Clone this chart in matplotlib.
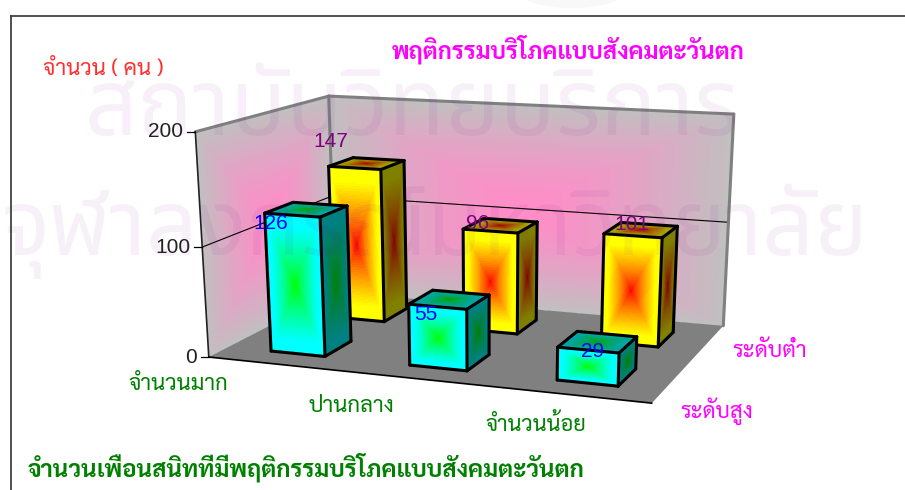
import numpy as np
import matplotlib
matplotlib.use("Agg")
import matplotlib.pyplot as plt
from matplotlib.patches import Ellipse

categories = ["จำนวนมาก", "ปานกลาง", "จำนวนน้อย"]
series = ["ระดับสูง", "ระดับต่ำ"]
high_values = [126, 55, 29]
low_values = [147, 96, 101]
y_ticks = [0, 100, 200]
y_max = 200
title = "พฤติกรรมบริโภคแบบสังคมตะวันตก"
y_title = "จำนวน ( คน )"
x_title = "จำนวนเพื่อนสนิทที่มีพฤติกรรมบริโภคแบบสังคมตะวันตก"
watermark = ["สถาบันวิทยบริการ", "จุฬาลงกรณ์มหาวิทยาลัย"]

fam = ["Sarabun", "Liberation Sans", "DejaVu Sans"]
wfam = ["Noto Sans Thai", "DejaVu Sans"]
num = ["Liberation Sans"]

# projective map of the unit cube (x along, y depth, z up) fitted to the chart corners
cube = np.array([[0,0,0],[1,0,0],[0,1,0],[1,1,0],[0,0,1],[0,1,1],[1,1,1]], float)
pix = np.array([[208,357],[652,403],[336,292],[723,326],[196,132],[328,96],[734,114]], float)
A, b = [], []
for (X,Y,Z),(u,v) in zip(cube,pix):
    A.append([X,Y,Z,1,0,0,0,0,-u*X,-u*Y,-u*Z]); b.append(u)
    A.append([0,0,0,0,X,Y,Z,1,-v*X,-v*Y,-v*Z]); b.append(v)
p = np.linalg.lstsq(np.array(A),np.array(b),rcond=None)[0]
P = np.append(p,1).reshape(3,4)
def proj(x,y,z):
    x,y,z = np.broadcast_arrays(x,y,z)
    w = P[2,0]*x+P[2,1]*y+P[2,2]*z+P[2,3]
    return (P[0,0]*x+P[0,1]*y+P[0,2]*z+P[0,3])/w, (P[1,0]*x+P[1,1]*y+P[1,2]*z+P[1,3])/w

fig = plt.figure(figsize=(9.05,4.9),dpi=100,facecolor="white")
ax = fig.add_axes([0,0,1,1]); ax.set_xlim(0,905); ax.set_ylim(490,0); ax.axis("off")
rend = fig.canvas.get_renderer()

def fit(t, width):
    w = t.get_window_extent(rend).width
    t.set_fontsize(t.get_fontsize()*width/w)
    return t

def face(c0,c1,c2,center,edge,reach=0.85,power=0.8,n=60,z=2):
    c0,c1,c2 = map(np.array,(c0,c1,c2))
    s = np.linspace(0,1,n+1); g = np.linspace(0,1,n+1)
    S,G = np.meshgrid(s,g)
    pts = c0[None,None,:]+S[...,None]*(c1-c0)+G[...,None]*(c2-c0)
    X,Y = proj(pts[...,0],pts[...,1],pts[...,2])
    sm = (s[:-1]+s[1:])/2; gm=(g[:-1]+g[1:])/2
    U,V = np.meshgrid(2*sm-1,2*gm-1)
    t = np.clip(np.maximum(abs(U),abs(V))**power/reach,0,1)[...,None]
    col = np.clip((np.array(center)*(1-t)+np.array(edge)*t)/255,0,1)
    ax.pcolormesh(X,Y,col,shading="flat",linewidth=0,antialiased=False,rasterized=True,zorder=z)

def line3(a,b,**kw):
    x,y = proj(*np.array([a,b],float).T)
    ax.plot(x,y,solid_capstyle="round",**kw)

ax.add_patch(Ellipse((572,-6),100,28,color="#f8f8f8",lw=0,zorder=0))

GRAY=(192,192,192); PINK=(255,140,200)
face((0,1,0),(1,1,0),(0,1,1),PINK,GRAY,reach=1.0,power=1.4,z=1)
face((0,0,0),(0,1,0),(0,0,1),PINK,GRAY,reach=1.0,power=1.4,z=1)
fx,fy = proj(np.array([0,1,1,0.]),np.array([0,0,1,1.]),np.zeros(4))
ax.fill(fx,fy,color="#808080",zorder=1.2,lw=0)

for t in y_ticks:
    zz=t/y_max
    kw=dict(color="#808080",lw=2.2,zorder=1.5) if t==y_max else dict(color="black",lw=0.8,zorder=1.5)
    if t>0:
        line3((0,0,zz),(0,1,zz),**kw); line3((0,1,zz),(1,1,zz),**kw)
    x,y=proj(0,0,zz)
    ax.plot([x-8,x],[y,y],color="black",lw=0.9,zorder=1.6)
    ax.text(x-12,y,str(t),ha="right",va="center",fontsize=15,color="#222222",family=num,zorder=6)
line3((0,1,0),(0,1,1),color="#808080",lw=2.2,zorder=1.5)
line3((1,1,0),(1,1,1),color="#808080",lw=2.2,zorder=1.5)
line3((0,0,0),(0,0,1),color="#222222",lw=1.2,zorder=1.5)
line3((0,0,0),(1,0,0),color="black",lw=1.2,zorder=1.5)

HALF_W=0.066; DEPTH=0.21
def bar(i,row,val,center,edge,z):
    xc=(i+0.5)/3+0.005; y0=0.14+0.5*row; y1=y0+DEPTH; h=val/y_max
    x0,x1=xc-HALF_W,xc+HALF_W
    face((x0,y0,0),(x1,y0,0),(x0,y0,h),center,edge,z=z)
    dark=lambda c,f:tuple(f*k for k in c)
    face((x1,y0,0),(x1,y1,0),(x1,y0,h),dark(center,.5),dark(edge,.5),z=z)
    face((x0,y0,h),(x1,y0,h),(x0,y1,h),dark(center,.65),dark(edge,.65),z=z)
    kw=dict(color="black",lw=2.2,zorder=z+.1)
    for a,b in [((x0,y0,0),(x1,y0,0)),((x0,y0,h),(x1,y0,h)),((x0,y0,0),(x0,y0,h)),((x1,y0,0),(x1,y0,h)),
                ((x1,y0,0),(x1,y1,0)),((x1,y1,0),(x1,y1,h)),((x1,y0,h),(x1,y1,h)),((x0,y0,h),(x0,y1,h)),((x0,y1,h),(x1,y1,h))]:
        line3(a,b,**kw)

z=2
for i,v in enumerate(low_values):
    bar(i,1,v,(255,0,0),(255,255,0),z); z+=.2
for i,v in enumerate(high_values):
    bar(i,0,v,(0,255,0),(0,255,255),z); z+=.2

for v,(x,y) in zip(low_values,[(331,141),(478,223),(632,224)]):
    ax.text(x,y,str(v),ha="center",va="center",fontsize=15,color="#800080",family=num,zorder=9)
for v,(x,y) in zip(high_values,[(271,223),(426,314),(593,351)]):
    ax.text(x,y,str(v),ha="center",va="center",fontsize=15,color="#0000ff",family=num,zorder=9)

GREEN="#008000"; MAG="#ff00ff"
for c,(x,y),w in zip(categories,[(178,384),(351,406),(536,425)],[100,86,101]):
    fit(ax.text(x,y,c,ha="center",va="center",fontsize=13,color=GREEN,family=fam,zorder=9),w)
for s,(x,y),w in zip(series,[(717,411),(770,351)],[73,75]):
    fit(ax.text(x,y,s,ha="center",va="center",fontsize=13,color=MAG,family=fam,zorder=9),w)
fit(ax.text(568,49,title,ha="center",va="center",fontsize=14,fontweight="bold",color=MAG,family=fam,zorder=9),353)
fit(ax.text(103,70,y_title,ha="center",va="center",fontsize=13,color="#ff3030",family=fam,zorder=9),121)
fit(ax.text(28,467,x_title,ha="left",va="center",fontsize=14,fontweight="bold",color=GREEN,family=fam,zorder=9),557)

# scanned watermark
wm=dict(va="baseline",color=(0.48,0.02,0.55),alpha=0.06,family=wfam,fontweight="bold",zorder=8)
fit(ax.text(412,135,watermark[0],ha="center",fontsize=68,**wm),655)
fit(ax.text(868,255,watermark[1],ha="right",fontsize=68,**wm),866)

ax.plot([11,11],[490,16],color="#333333",lw=1.2,zorder=10)
ax.plot([11,905],[16,16],color="#333333",lw=1.2,zorder=10)
fig.savefig("out.png",dpi=100)
